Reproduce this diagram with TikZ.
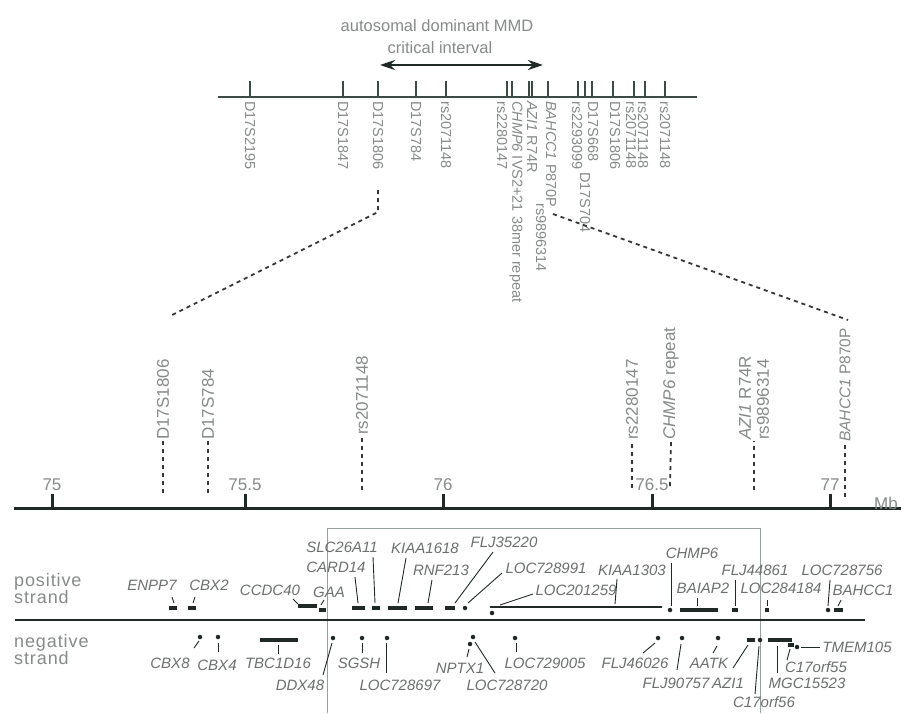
\documentclass[tikz,border=0pt]{standalone}
\usepackage{fontspec}
\setmainfont{Liberation Sans}
\newfontfamily\strandfont[LetterSpace=5]{Liberation Sans}
\usetikzlibrary{arrows.meta}
\definecolor{ink}{HTML}{1F2A26}
\definecolor{topline}{HTML}{3A4C44}
\definecolor{labgray}{HTML}{868B88}
\definecolor{genegray}{HTML}{6C706E}
\definecolor{boxgray}{HTML}{98A09C}
\definecolor{dashcol}{HTML}{333836}
\newcommand\ldr[3]{\coordinate (#1-a) at (#2); \coordinate (#1-b) at (#3); \draw[lead] (#1-a) -- (#1-b);}
\begin{document}
\begin{tikzpicture}[x=1pt,y=-1pt,
  title/.style={inner sep=0pt, font=\fontsize{16.5}{18}\selectfont, text=labgray},
  critarrow/.style={line width=2.4pt, draw=ink, {Stealth[length=15pt,width=10pt]}-{Stealth[length=15pt,width=10pt]}},
  topaxis/.style={line width=1.4pt, draw=topline},
  toptick/.style={line width=1.6pt, draw=topline},
  toplab/.style={rotate=-90, anchor=west, inner sep=0pt, font=\fontsize{14.5}{15}\selectfont, text=labgray},
  midlab/.style={rotate=90, anchor=west, inner sep=1pt, font=\fontsize{17}{18}\selectfont, text=labgray},
  mdash/.style={line width=1.8pt, draw=dashcol, dash pattern=on 4pt off 4pt},
  axis/.style={line width=3pt, draw=ink},
  axtick/.style={line width=3pt, draw=ink},
  axlab/.style={inner sep=0pt, font=\fontsize{17}{18}\selectfont, text=labgray},
  strand/.style={inner sep=0pt, anchor=west, align=left, font=\fontsize{18}{17}\strandfont, text=labgray},
  sepline/.style={line width=1.6pt, draw=ink},
  boxline/.style={line width=0.9pt, draw=boxgray},
  gl/.style={inner sep=0pt, font=\fontsize{15}{16}\selectfont\itshape, text=genegray},
  lead/.style={line width=0.9pt, draw=ink},
  gbar/.style={line width=3.6pt, draw=ink},
  gdot/.style={circle, fill=ink, inner sep=0pt, minimum size=4.5pt}
]
\useasboundingbox (0,0) rectangle (901,713);
\fill[white] (0,0) rectangle (901,713);

% ---------------- top map ----------------
\node[title, anchor=base] (title1) at (437,31) {autosomal dominant MMD};
\node[title, anchor=base] (title2) at (440,53) {critical interval};
\coordinate (arL) at (380,65); \coordinate (arR) at (543,65);
\draw[critarrow] (arL) -- (arR);

\coordinate (tlL) at (218,97); \coordinate (tlR) at (697,97);
\draw[topaxis] (tlL) -- (tlR);
\foreach \x in {250,343,378,416,446,507,512,529,532,548,578,585,592,613,634,645,665}
  \draw[toptick] (\x,81) -- (\x,97);

\node[toplab] (tD2195) at (250,101) {D17S2195};
\node[toplab] (tD1847) at (343,101) {D17S1847};
\node[toplab] (tD1806) at (378,101) {D17S1806};
\node[toplab] (tD784) at (416,101) {D17S784};
\node[toplab] (trsA) at (446,101) {rs2071148};
\node[toplab] (trs2280) at (502,101) {rs2280147};
\node[toplab] (tchmp) at (516,101) {\textit{CHMP6} IVS2+21 38mer repeat};
\node[toplab] (tazi) at (532,101) {\textit{AZI1} R74R};
\node[toplab] (trs989) at (541,203) {rs9896314};
\node[toplab] (tbah) at (551,101) {\textit{BAHCC1} P870P};
\node[toplab] (trs2293) at (577,101) {rs2293099};
\node[toplab] (tD704) at (585,172) {D17S704};
\node[toplab] (tD668) at (593,101) {D17S668};
\node[toplab] (tD1806b) at (615,101) {D17S1806};
\node[toplab] (trsB) at (631,101) {rs2071148};
\node[toplab] (trsC) at (643,101) {rs2071148};
\node[toplab] (trsD) at (665,101) {rs2071148};

% zoom connectors
\coordinate (zl1) at (378,190); \coordinate (zl2) at (378,212); \coordinate (zl3) at (170,316);
\draw[mdash] (zl1) -- (zl2) -- (zl3);
\coordinate (zr1) at (553,214); \coordinate (zr2) at (848,320);
\draw[mdash] (zr1) -- (zr2);

% ---------------- middle scale ----------------
\coordinate (axL) at (14,508); \coordinate (axR) at (901,508);
\draw[axis] (axL) -- (axR);
\foreach \x/\t in {52/75,245/75.5,443/76,652/76.5,830/77}{
  \draw[axtick] (\x,494) -- (\x,508);
  \node[axlab] at (\x,485) {\t};
}
\node[axlab, anchor=west] (mb) at (874,503) {Mb};

\node[midlab] (mD1806) at (163,441) {D17S1806};
\node[midlab] (mD784) at (208,441) {D17S784};
\node[midlab] (mrs207) at (362,436) {rs2071148};
\node[midlab] (mrs228) at (632,441) {rs2280147};
\node[midlab] (mchmp) at (671,441) {\textit{CHMP6} repeat};
\node[midlab, align=left] (mazi) at (754,441) {\textit{AZI1} R74R\\rs9896314};
\node[midlab, font=\fontsize{15.5}{17}\selectfont] (mbah) at (845,443) {\textit{BAHCC1} P870P};
\coordinate (dD1806) at (163,493); \draw[mdash] (dD1806) -- (mD1806.west);
\coordinate (dD784) at (208,493); \draw[mdash] (dD784) -- (mD784.west);
\coordinate (drs207) at (362,490); \draw[mdash] (drs207) -- (mrs207.west);
\coordinate (drs228) at (632,488); \draw[mdash] (drs228) -- (mrs228.west);
\coordinate (dchmp) at (670,486); \draw[mdash] (dchmp) -- (mchmp.west);
\coordinate (dazi) at (754,490); \draw[mdash] (dazi) -- (mazi.west);
\coordinate (dbah) at (845,497); \draw[mdash] (dbah) -- (mbah.west);

% ---------------- gene map ----------------
\draw[boxline] (327,713) -- (327,528) -- (760,528) -- (760,713);
\coordinate (sepL) at (15,620); \coordinate (sepR) at (865,620);
\draw[sepline] (sepL) -- (sepR);
\node[strand] (pos) at (14,589) {positive\\strand};
\node[strand] (neg) at (14,650) {negative\\strand};

% positive strand genes
\draw[gbar] (169,608) -- (177,608);
\draw[gbar] (188,608) -- (196,608);
\draw[gbar] (298,606) -- (317,606);
\draw[gbar] (319,610) -- (326,610);
\draw[gbar] (352,608) -- (365,608);
\draw[gbar] (372,608) -- (380,608);
\draw[gbar] (388,608) -- (407,608);
\draw[gbar] (415,608) -- (433,608);
\draw[gbar] (445,608) -- (455,608);
\node[gdot] (gLOC728991) at (465,608) {};
\draw[line width=2pt, draw=ink] (490,607) -- (662,607);
\node[gdot] (gLOC201259) at (492,613) {};
\node[gdot] (gCHMP6) at (670,610) {};
\draw[gbar] (680,610) -- (718,610);
\draw[gbar] (732,610) -- (738,610);
\draw[gbar] (765,610) -- (769,610);
\node[gdot] (gLOC728756) at (828,610) {};
\draw[gbar] (834,610) -- (843,610);

\node[gl] (ENPP7) at (152,585) {ENPP7};
\node[gl] (CBX2) at (209,585) {CBX2};
\node[gl] (CCDC40) at (270,590) {CCDC40};
\node[gl] (GAA) at (329,592) {GAA};
\node[gl] (SLC26A11) at (342,547) {SLC26A11};
\node[gl] (CARD14) at (336,567) {CARD14};
\node[gl] (KIAA1618) at (425,548) {KIAA1618};
\node[gl] (RNF213) at (441,570) {RNF213};
\node[gl] (FLJ35220) at (504,542) {FLJ35220};
\node[gl] (LOC728991) at (546,568) {LOC728991};
\node[gl] (LOC201259) at (576,590) {LOC201259};
\node[gl] (KIAA1303) at (632,570) {KIAA1303};
\node[gl] (CHMP6) at (692,553) {CHMP6};
\node[gl] (BAIAP2) at (703,588) {BAIAP2};
\node[gl] (FLJ44861) at (755,570) {FLJ44861};
\node[gl] (LOC284184) at (781,588) {LOC284184};
\node[gl] (LOC728756) at (842,570) {LOC728756};
\node[gl] (BAHCC1) at (863,590) {BAHCC1};

\ldr{lENPP7}{172,597}{174,603}
\ldr{lCBX2}{195,597}{193,603}
\ldr{lCCDC40}{293,599}{298,604}
\ldr{lGAA}{324,600}{321,605}
\ldr{lSLC}{373,557}{375,603}
\ldr{lCARD}{355,577}{358,603}
\ldr{lKIAA1618}{406,558}{398,603}
\ldr{lRNF}{432,580}{428,603}
\ldr{lFLJ35}{493,552}{455,603}
\ldr{lLOC728991}{502,573}{468,603}
\ldr{lLOC201259}{533,594}{500,605}
\ldr{lKIAA1303}{617,579}{615,604}
\ldr{lCHMP6}{671,563}{671,606}
\ldr{lBAIAP2}{697,598}{697,606}
\ldr{lFLJ44}{735,580}{735,606}
\ldr{lLOC284}{767,600}{767,606}
\ldr{lLOC7287}{830,580}{828,606}
\ldr{lBAHCC1}{841,600}{838,606}

% negative strand genes
\node[gdot] (gCBX8) at (200,637) {};
\node[gdot] (gCBX4) at (218,637) {};
\draw[gbar] (260,640) -- (298,640);
\node[gdot] (gDDX48) at (333,638) {};
\node[gdot] (gSGSH) at (362,638) {};
\node[gdot] (gLOC728697) at (387,638) {};
\node[gdot] (gNPTX1) at (470,644) {};
\node[gdot] (gLOC728720) at (473,637) {};
\node[gdot] (gLOC729005) at (515,638) {};
\node[gdot] (gFLJ46026) at (658,638) {};
\node[gdot] (gFLJ90757) at (682,638) {};
\node[gdot] (gAATK) at (718,638) {};
\draw[gbar] (747,640) -- (755,640);
\node[gdot] (gC17orf56) at (760,640) {};
\draw[gbar] (768,640) -- (792,640);
\draw[gbar] (788,645) -- (794,645);
\node[gdot] (gTMEM105) at (797,647) {};

\node[gl] (CBX8) at (170,663) {CBX8};
\node[gl] (CBX4) at (217,665) {CBX4};
\node[gl] (TBC1D16) at (278,663) {TBC1D16};
\node[gl] (DDX48) at (300,685) {DDX48};
\node[gl] (SGSH) at (359,663) {SGSH};
\node[gl] (LOC728697) at (400,685) {LOC728697};
\node[gl] (NPTX1) at (460,668) {NPTX1};
\node[gl] (LOC728720) at (507,685) {LOC728720};
\node[gl] (LOC729005) at (545,663) {LOC729005};
\node[gl] (FLJ46026) at (635,663) {FLJ46026};
\node[gl] (FLJ90757) at (676,683) {FLJ90757};
\node[gl] (AATK) at (709,663) {AATK};
\node[gl] (AZI1) at (728,683) {AZI1};
\node[gl] (C17orf56) at (764,702) {C17orf56};
\node[gl] (MGC15523) at (807,683) {MGC15523};
\node[gl] (C17orf55) at (816,667) {C17orf55};
\node[gl] (TMEM105) at (857,647) {TMEM105};

\ldr{lCBX8}{199,641}{194,648}
\ldr{lCBX4}{218,643}{218,652}
\ldr{lTBC}{278,645}{278,654}
\ldr{lDDX48}{332,643}{323,675}
\ldr{lSGSH}{362,643}{362,653}
\ldr{lLOC728697}{386,643}{386,673}
\ldr{lNPTX1}{469,649}{467,657}
\ldr{lLOC728720}{475,642}{495,673}
\ldr{lLOC729005}{516,643}{516,652}
\ldr{lFLJ46026}{655,643}{643,653}
\ldr{lFLJ90757}{681,644}{677,670}
\ldr{lAATK}{717,646}{713,653}
\ldr{lAZI1}{748,645}{733,668}
\ldr{lC17orf56}{759,646}{755,694}
\ldr{lMGC}{777,646}{777,673}
\ldr{lC17orf55}{790,649}{787,660}
\ldr{lTMEM}{801,647}{820,647}
\end{tikzpicture}
\end{document}
